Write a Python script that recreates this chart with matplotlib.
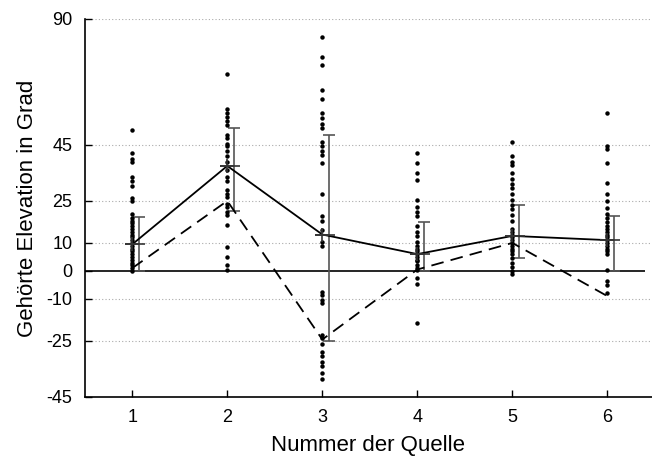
import matplotlib
matplotlib.use("Agg")
import matplotlib.pyplot as plt
import numpy as np

plt.rcParams["font.family"] = ["Liberation Sans", "DejaVu Sans"]
plt.rcParams["axes.unicode_minus"] = False

# individual responses per source (degrees)
src1 = [50.5, 42, 40, 39, 33.5, 32, 30.5, 26, 25, 20.5, 19, 18, 17, 16, 15, 14,
        13, 12, 11, 10, 9, 8, 7, 6, 5, 4, 3, 2, 1, 0]
src2 = [70.5, 58, 56.5, 55, 53.5, 52, 48.5, 47.5, 45.5, 44.5, 43, 41, 39, 36,
        33.5, 32, 29, 27.5, 26.5, 24, 23, 21, 20, 16.5, 8.5, 5, 2, 0.5]
src3 = [83.5, 76.5, 73.5, 64.5, 61.5, 56.5, 54.5, 52.5, 51, 46, 44.5, 43, 41.5,
        38.5, 27.5, 19.5, 18, 14.5, 10.5, 9, -7.5, -8.5, -10.5, -11.5, -23, -24,
        -26, -29, -30.5, -32.5, -34, -36.5, -38.5]
src4 = [42, 38.5, 35, 32.5, 25.5, 23, 21, 19.5, 16, 14, 12.5, 10.5, 9, 8, 7, 6,
        5, 4, 3.5, 2, 1, 0.5, -2.5, -4.5, -18.5]
src5 = [46, 41, 39, 38, 35, 33, 31, 29.5, 27.5, 25.5, 23.5, 22, 20, 18, 15, 14,
        13, 12, 11, 10, 9, 8, 7, 6, 4.5, 3, 1.5, 0, -1]
src6 = [56.5, 44.5, 43.5, 38.5, 31.5, 27.5, 25, 22.5, 20.5, 19, 17.5, 16, 15,
        14, 13, 12, 11, 10, 9, 8, 7, 6, 0.5, -3.5, -5, -8]
responses = [src1, src2, src3, src4, src5, src6]

sources = [1, 2, 3, 4, 5, 6]
means = [9.5, 37.5, 13, 6, 12.5, 11]
err_low = [0, 21.5, -25, 0, 4.5, 0]
err_high = [19.2, 51, 48.5, 17.5, 23.5, 19.5]
medians = [1, 25, -24.5, 0.5, 10, -9]

yticks = [-45, -25, -10, 0, 10, 25, 45, 90]

fig = plt.figure(figsize=(6.52, 4.61), dpi=100)
ax = fig.add_axes([0.130, 0.139, 0.870, 0.820])

# grid lines
for yv in yticks:
    if yv != 0:
        ax.axhline(yv, color="#aaaaaa", lw=0.8, ls=(0, (1, 2)), zorder=0)
ax.hlines(0, 0.5, 6.4, color="black", lw=1.2, zorder=1)

# dots
for s, vals in zip(sources, responses):
    ax.plot([s] * len(vals), vals, "o", color="black", ms=3.2, mew=0, zorder=3)

x = np.array(sources, dtype=float)
m = np.array(means)
lo = m - np.array(err_low)
hi = np.array(err_high) - m
ax.errorbar(x + 0.07, m, yerr=[lo, hi], fmt="none", ecolor="#555555",
            elinewidth=1.2, capsize=4, capthick=1.2, zorder=2)

ax.plot(x, m, "-", color="black", lw=1.3, zorder=4)
ax.plot(x, m, "+", color="#333333", ms=10, mew=1.2, zorder=4)
ax.plot(x + 0.03, m, "_", color="#333333", ms=14, mew=1.2, zorder=4)
ax.plot(x, medians, color="black", lw=1.3, dashes=(7, 4), zorder=4)

ax.set_xlim(0.5, 6.47)
ax.set_ylim(-45, 90)
ax.set_xticks(sources)
ax.set_yticks(yticks)
ax.tick_params(direction="in", length=5, labelsize=13, width=1)
ax.tick_params(axis="x", pad=9)
ax.tick_params(axis="y", pad=9)
ax.spines["top"].set_visible(False)
ax.spines["right"].set_visible(False)
ax.spines["left"].set_linewidth(1.2)
ax.spines["bottom"].set_linewidth(1.2)

ax.set_xlabel("Nummer der Quelle", fontsize=16, labelpad=6)
ax.set_ylabel("Gehörte Elevation in Grad", fontsize=16, labelpad=6)

fig.savefig("out.png", dpi=100)
